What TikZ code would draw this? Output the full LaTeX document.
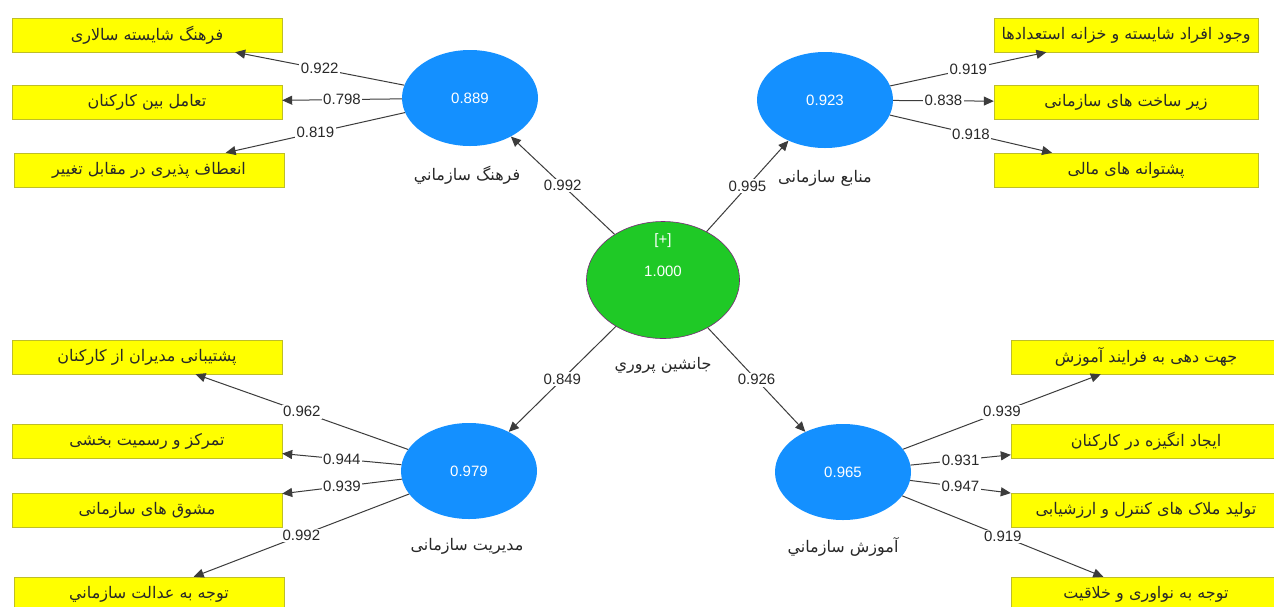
\documentclass[tikz,border=0pt]{standalone}
\usepackage{fontspec}
\setmainfont{Liberation Sans}
\newfontfamily\arabicfont[Script=Arabic]{DejaVu Sans}
\TeXXeTstate=1
\newcommand{\fa}[1]{{\arabicfont\beginR #1\endR}}
\usetikzlibrary{shapes.geometric, arrows.meta}
\definecolor{indyellow}{RGB}{255, 255, 0}
\definecolor{indborder}{RGB}{190, 190, 40}
\definecolor{lvblue}{RGB}{20, 144, 255}
\definecolor{lvgreen}{RGB}{31, 201, 38}
\definecolor{lvborder}{RGB}{120, 40, 120}
\definecolor{pathgray}{RGB}{60, 60, 60}
\definecolor{textgray}{RGB}{40, 40, 40}
\tikzset{
  indbox/.style={draw=indborder, fill=indyellow, minimum width=270pt, minimum height=34pt, inner sep=0pt, text=textgray, font=\fontsize{16}{18}\selectfont},
  lv/.style={ellipse, fill=lvblue, minimum width=136pt, minimum height=96pt, inner sep=0pt, text=white, font=\fontsize{15}{17}\selectfont},
  lvname/.style={text=textgray, font=\fontsize{16}{18}\selectfont},
  load/.style={draw=pathgray, line width=1pt, -{Triangle[length=10pt, width=9pt]}},
  coef/.style={fill=white, inner sep=1.5pt, text=textgray, font=\fontsize{15}{17}\selectfont}
}

\begin{document}
\begin{tikzpicture}[x=1pt, y=-1pt]
  \clip (0,0) rectangle (1274,606);
  \fill[white] (0,0) rectangle (1274,606);

  % Second-order construct
  \node[lv, fill=lvgreen, draw=lvborder, line width=0.6pt, minimum width=153pt, minimum height=117pt] (succ) at (663,280) {};
  \node[text=white, font=\fontsize{15}{17}\selectfont] (succplus) at (663,241) {[+]};
  \node[text=white, font=\fontsize{15}{17}\selectfont] (succval) at (663,271) {1.000};
  \node[lvname] (succname) at (663,365) {\fa{جانشین پروري}};

  % First-order constructs
  \node[lv] (cult) at (470,98) {0.889};
  \node[lvname] (cultname) at (467,175) {\fa{فرهنگ سازماني}};
  \node[lv] (res) at (825,100) {0.923};
  \node[lvname] (resname) at (825,178) {\fa{منابع سازمانی}};
  \node[lv] (mgmt) at (469,471) {0.979};
  \node[lvname] (mgmtname) at (467,546) {\fa{مدیریت سازمانی}};
  \node[lv] (train) at (843,472) {0.965};
  \node[lvname] (trainname) at (843,547) {\fa{آموزش سازماني}};

  % Indicators, top left
  \node[indbox] (cult1) at (147,35) {\fa{فرهنگ شایسته سالاری}};
  \node[indbox] (cult2) at (147,102) {\fa{تعامل بین کارکنان}};
  \node[indbox] (cult3) at (149,170) {\fa{انعطاف پذیری در مقابل تغییر}};

  % Indicators, top right
  \node[indbox, minimum width=264pt] (res1) at (1126,35) {\fa{وجود افراد شایسته و خزانه استعدادها}};
  \node[indbox, minimum width=264pt] (res2) at (1126,102) {\fa{زیر ساخت های سازمانی}};
  \node[indbox, minimum width=264pt] (res3) at (1126,170) {\fa{پشتوانه های مالی}};

  % Indicators, bottom left
  \node[indbox] (mgmt1) at (147,357) {\fa{پشتیبانی مدیران از کارکنان}};
  \node[indbox] (mgmt2) at (147,441) {\fa{تمرکز و رسمیت بخشی}};
  \node[indbox] (mgmt3) at (147,510) {\fa{مشوق های سازمانی}};
  \node[indbox] (mgmt4) at (149,594) {\fa{توجه به عدالت سازماني}};

  % Indicators, bottom right
  \node[indbox] (train1) at (1146,357) {\fa{جهت دهی به فرایند آموزش}};
  \node[indbox] (train2) at (1146,441) {\fa{ایجاد انگیزه در کارکنان}};
  \node[indbox] (train3) at (1146,510) {\fa{تولید ملاک های کنترل و ارزشیابی}};
  \node[indbox] (train4) at (1146,594) {\fa{توجه به نواوری و خلاقیت}};

  % Structural paths
  \draw[load] (succ) -- node[coef] {0.992} (cult);
  \draw[load] (succ) -- node[coef] {0.995} (res);
  \draw[load] (succ) -- node[coef] {0.849} (mgmt);
  \draw[load] (succ) -- node[coef] {0.926} (train);

  % Loadings
  \draw[load] (cult) -- node[coef] {0.922} (cult1);
  \draw[load] (cult) -- node[coef] {0.798} (cult2);
  \draw[load] (cult) -- node[coef] {0.819} (cult3);
  \draw[load] (res) -- node[coef] {0.919} (res1);
  \draw[load] (res) -- node[coef] {0.838} (res2);
  \draw[load] (res) -- node[coef] {0.918} (res3);
  \draw[load] (mgmt) -- node[coef] {0.962} (mgmt1);
  \draw[load] (mgmt) -- node[coef] {0.944} (mgmt2);
  \draw[load] (mgmt) -- node[coef] {0.939} (mgmt3);
  \draw[load] (mgmt) -- node[coef] {0.992} (mgmt4);
  \draw[load] (train) -- node[coef] {0.939} (train1);
  \draw[load] (train) -- node[coef] {0.931} (train2);
  \draw[load] (train) -- node[coef] {0.947} (train3);
  \draw[load] (train) -- node[coef] {0.919} (train4);
\end{tikzpicture}
\end{document}
